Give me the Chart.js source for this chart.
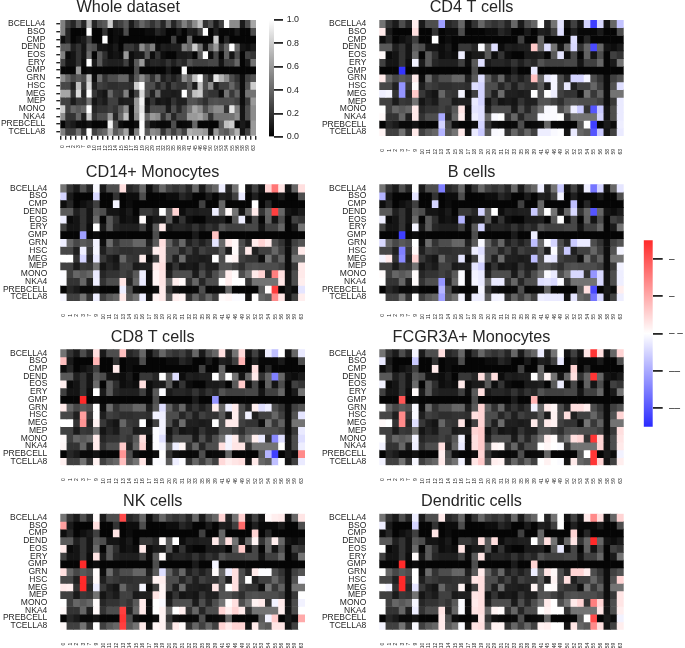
<!DOCTYPE html>
<html>
<head>
<meta charset="utf-8">
<title>Heatmaps</title>
<script src="https://cdn.jsdelivr.net/npm/chart.js@4"></script>
<style>
html, body { margin: 0; background: #fff; overflow: hidden; width: 685px; height: 648px; }
canvas { position: absolute; }
</style>
</head>
<body>
<script>
const rowLabels = ['BCELLA4', 'BSO', 'CMP', 'DEND', 'EOS', 'ERY', 'GMP', 'GRN', 'HSC', 'MEG', 'MEP', 'MONO', 'NKA4', 'PREBCELL', 'TCELLA8'];
const colLabels = ['0', '1', '2', '3', '7', '9', '10', '11', '12', '13', '14', '15', '16', '17', '18', '19', '20', '29', '31', '32', '33', '35', '38', '39', '41', '45', '46', '49', '50', '52', '53', '54', '55', '56', '58', '59', '63'];
const greyTicks = [0, 0.2, 0.4, 0.6, 0.8, 1];
const tintTicks = [2, 1, 0, -1, -2];
const tintTickLabels = ['–', '–', '– –', '––', '––'];

// Whole dataset, grey scale 0..1
const wholeValues = [
  [.5,.25,.15,.35,.15,.7,.15,.3,.35,.8,.2,.25,.35,.1,.25,.4,.3,.2,.3,.15,.4,.15,.3,.5,.35,.55,.75,.2,.3,.1,.25,1,.55,.55,.1,.3,.65],
  [.5,.15,.02,.02,.02,1,.02,.02,.2,.02,.05,.05,.3,.02,.02,.02,.05,.05,.15,.1,.02,.02,.1,.02,.12,.1,.25,1,.02,.12,.03,.03,.03,.1,.02,.02,.3],
  [.05,.15,.02,.06,.1,.25,.02,.02,1,.02,.05,.02,.02,.02,.02,.02,.02,.02,.02,.02,.02,.25,.02,.02,.4,.02,.02,.02,.02,.8,.02,.15,.02,.02,.02,.02,.02],
  [.35,.35,.12,.2,.08,.35,.3,.08,.08,.05,.1,.02,.22,.22,.15,.55,.35,.5,.05,.12,.1,.12,.12,.5,.4,.8,.45,.08,.4,.6,.2,.4,1,.4,.08,.05,.1],
  [.5,.04,.08,.2,.08,.42,.02,.35,.18,.05,.08,.05,.6,.05,.1,.1,.35,.05,.2,.05,.02,.02,.1,.1,.12,.02,.35,1,.05,.28,.02,.38,.08,.3,.02,.25,.2],
  [.25,.08,.08,.2,.05,1,.1,.35,.15,.12,.12,.12,.25,.05,.35,.6,.1,.15,.15,.12,.2,.12,.2,.15,.32,.25,.25,.25,.28,.28,.08,.25,.25,.4,.02,.1,.45],
  [.02,.02,.02,.6,.02,.05,.02,.02,.02,.02,.02,.02,.02,.02,.3,.02,.02,.02,.02,.02,.1,.02,.02,1,.02,.02,.02,.02,.02,.02,.02,.02,.02,.02,.02,.02,.02],
  [.55,.4,.28,.35,.3,.75,.05,.42,.2,.3,.3,.4,.4,.12,.35,.55,.38,.2,.4,.12,.2,.12,.2,.55,.4,.75,1,.3,.15,.9,.7,.55,.3,.2,.05,.25,.32],
  [.28,.28,.12,.75,.22,.85,.12,.25,.22,.18,.18,.2,.2,.18,.8,1,.3,.3,.15,.25,.12,.25,.2,.2,.35,.1,.75,.3,.55,.12,.25,.25,.4,.25,.05,.32,.8],
  [.65,.65,.2,.85,.15,1,.22,.12,.08,.4,.22,.2,.5,.05,.25,.85,.3,.12,.42,.12,.12,.1,.12,1,.3,.75,.8,.25,.2,.2,.05,.45,.22,.38,.05,.45,.45],
  [.25,.25,.1,.22,.2,.45,.08,.15,.1,.25,.25,.1,.12,.12,.6,.95,.08,.2,.08,.1,.08,.2,.12,.12,.32,.32,.25,.18,.3,.32,.3,.3,.3,.25,.05,.22,.6],
  [.8,.25,.4,.35,.4,1,.15,.2,.2,.25,.2,.35,.55,.05,.6,.9,.12,.3,.3,.3,.1,.3,.15,.3,.45,.65,.55,.3,.45,.55,.55,.2,.9,.5,.08,.3,.55],
  [.55,.2,.2,.4,.12,.8,.2,.3,.3,.6,.15,.4,.75,.05,.55,.95,.4,.6,.55,.2,.4,.15,.3,.3,.6,.6,.65,.5,.2,.45,.45,.45,.45,.55,.08,.3,.55],
  [.02,.15,.1,.04,.04,.08,.02,.02,.02,.95,.3,.05,.02,.02,.05,1,.2,.06,.04,.03,.04,.3,.03,.04,.05,.4,.02,.02,.02,.02,.35,.75,.8,.02,.1,.05,.6],
  [.5,.25,.25,.45,.2,1,.25,.35,.4,.7,.35,.45,.65,.08,.5,1,.35,.55,.5,.2,.4,.25,.4,.25,.7,.65,.65,.6,.08,.6,.4,.35,.5,.7,.08,.25,.6]
];

// Grey background shared by the seven cell type panels
const sharedGrey = [
  [.45,.2,.1,.3,.15,.9,.1,.3,.3,.8,.15,.2,.4,.05,.2,.4,.25,.2,.25,.15,.4,.1,.3,.4,.9,.15,.45,.9,.08,.25,.08,.9,.9,.9,.08,.4,.9],
  [.9,.1,.02,.02,.02,.9,.02,.02,.2,.02,.05,.05,.3,.02,.02,.02,.05,.05,.15,.1,.02,.02,.1,.02,.12,.1,.25,.9,.02,.12,.03,.03,.03,.1,.02,.02,.3],
  [.05,.15,.02,.06,.1,.25,.02,.02,.9,.02,.05,.02,.02,.02,.02,.02,.02,.02,.02,.02,.02,.25,.02,.02,.4,.02,.02,.02,.02,.9,.02,.15,.02,.02,.02,.02,.02],
  [.35,.35,.12,.2,.08,.35,.3,.08,.08,.05,.1,.02,.22,.22,.15,.9,.35,.9,.05,.12,.1,.12,.12,.9,.4,.9,.45,.08,.4,.9,.2,.4,.9,.4,.08,.05,.1],
  [.9,.04,.08,.2,.08,.42,.02,.35,.18,.05,.08,.05,.9,.05,.1,.1,.35,.05,.2,.05,.02,.02,.1,.1,.12,.02,.35,.9,.05,.28,.02,.38,.08,.3,.02,.25,.2],
  [.25,.08,.08,.2,.05,.9,.1,.35,.15,.12,.12,.12,.25,.05,.35,.9,.1,.15,.15,.12,.2,.12,.2,.15,.32,.25,.25,.25,.28,.28,.08,.25,.25,.4,.02,.1,.45],
  [.02,.02,.02,.9,.02,.05,.02,.02,.02,.02,.02,.02,.02,.02,.3,.02,.02,.02,.02,.02,.1,.02,.02,.9,.02,.02,.02,.02,.02,.02,.02,.02,.02,.02,.02,.02,.02],
  [.9,.4,.28,.35,.3,.9,.05,.42,.2,.3,.3,.4,.4,.12,.35,.9,.38,.2,.4,.12,.2,.12,.2,.9,.4,.9,.9,.3,.15,.9,.9,.9,.3,.2,.05,.25,.32],
  [.28,.28,.12,.9,.22,.9,.12,.25,.22,.18,.18,.2,.2,.18,.9,.9,.3,.3,.15,.25,.12,.25,.2,.2,.35,.1,.9,.3,.9,.12,.25,.25,.4,.25,.05,.32,.9],
  [.9,.9,.2,.9,.15,.9,.22,.12,.08,.4,.22,.2,.9,.05,.25,.9,.3,.12,.42,.12,.12,.1,.12,.9,.3,.9,.9,.25,.2,.2,.05,.45,.22,.38,.05,.45,.45],
  [.25,.25,.1,.22,.2,.45,.08,.15,.1,.25,.25,.1,.12,.12,.9,.9,.08,.2,.08,.1,.08,.2,.12,.12,.32,.32,.25,.18,.3,.32,.3,.3,.3,.25,.05,.22,.9],
  [.9,.25,.4,.35,.4,.9,.15,.2,.2,.25,.2,.35,.9,.05,.9,.9,.12,.3,.3,.3,.1,.3,.15,.3,.45,.9,.9,.3,.45,.9,.9,.2,.9,.9,.08,.3,.9],
  [.9,.2,.2,.4,.12,.9,.2,.3,.3,.9,.15,.4,.9,.05,.9,.9,.4,.9,.9,.2,.4,.15,.3,.3,.9,.9,.9,.9,.2,.45,.45,.45,.45,.9,.08,.3,.9],
  [.02,.15,.1,.04,.04,.08,.02,.02,.02,.9,.3,.05,.02,.02,.05,.9,.2,.06,.04,.03,.04,.3,.03,.04,.05,.4,.02,.02,.02,.02,.35,.9,.9,.02,.1,.05,.9],
  [.9,.25,.25,.45,.2,.9,.25,.35,.4,.9,.35,.45,.9,.08,.9,.9,.35,.9,.9,.2,.4,.25,.4,.25,.9,.9,.9,.9,.08,.9,.4,.35,.9,.9,.08,.25,.9]
];

// Column indexes per row that carry a blue/red value in the cell type panels
const tintCols = [
  [5,9,24,27,31,32,33,36],
  [0,5,27],
  [8,29],
  [15,17,23,25,29,32],
  [0,12,27],
  [5,15],
  [3,23],
  [0,5,15,23,25,26,29,30,31],
  [3,5,14,15,26,28,36],
  [0,1,3,5,12,15,23,25,26],
  [14,15,36],
  [0,5,12,14,15,25,26,29,30,32,33,36],
  [0,5,9,12,14,15,17,18,24,25,26,27,33,36],
  [9,15,31,32,36],
  [0,5,9,12,14,15,17,18,24,25,26,27,29,32,33,36]
];

const cd4Values = [
  [.08,-.45,0,-.12,-.2,-.9,-.18,-.28],
  [.1,.15,-.15],
  [0,-.15],
  [-.02,-.15,.25,-.15,-.18,-.85],
  [.03,-.08,-.12],
  [-.06,-.15],
  [-.95,-.1],
  [.1,.1,-.15,.3,-.1,-.05,-.2,-.2,-.05],
  [-.5,.02,-.15,-.2,-.05,-.1,-.15],
  [-.08,-.05,-.5,.25,-.05,-.2,0,0,-.08],
  [-.1,-.2,-.1],
  [0,.1,.12,-.12,-.15,-.03,-.02,-.08,-.25,-.8,-.25,-.1],
  [.03,.1,-.4,.08,-.08,-.15,-.03,0,-.03,-.02,-.02,0,-.2,-.1],
  [-.2,-.2,0,-.9,-.08],
  [.05,.1,-.35,.1,-.1,-.25,-.03,-.02,-.08,-.08,-.03,-.01,-.1,-.8,-.25,-.1]
];
const cd14Values = [
  [-.03,.15,-.08,0,.2,.65,.12,.15],
  [-.2,-.18,-.1],
  [-.05,0],
  [0,.2,-.08,.03,.1,.9],
  [-.08,.02,-.08],
  [0,.1],
  [-.45,.28],
  [-.08,-.05,.15,-.12,.1,.03,.1,.2,.1],
  [-.08,-.04,.08,.12,.02,.1,.1],
  [0,0,-.2,-.1,.08,.12,0,.02,.05],
  [.1,.15,.1],
  [-.02,-.1,-.08,.05,.12,.08,.02,.1,.2,.6,.15,.1],
  [-.02,-.08,.12,-.1,.05,.12,.08,.03,0,.08,0,0,.12,.08],
  [-.08,.1,.02,.9,-.12],
  [-.04,-.08,.1,-.08,.05,.1,.08,.05,.02,.04,-.02,-.02,.01,.55,.12,.08]
];
const bCellValues = [
  [0,-.6,-.08,-.25,-.08,-.65,-.2,-.12],
  [-.35,-.12,-.05],
  [-.2,-.3],
  [-.2,0,-.25,0,-.18,-.8],
  [-.08,-.35,0],
  [-.05,-.2],
  [-.9,-.08],
  [-.18,0,-.03,-.3,-.02,-.2,-.25,-.1,-.1],
  [-.6,.03,-.08,-.15,-.02,-.25,-.05],
  [-.05,.1,-.55,.2,-.12,-.08,-.3,-.08,-.12],
  [-.12,-.22,-.06],
  [.02,.02,-.02,-.06,-.1,-.02,-.1,-.18,-.18,-.5,-.18,-.08],
  [0,.02,-.5,-.02,-.05,-.1,-.1,-.1,-.15,-.12,-.18,-.02,-.18,-.08],
  [-.35,-.05,.15,-.85,.08],
  [0,0,-.45,-.05,-.08,-.08,-.06,-.05,-.08,-.1,-.1,-.1,-.12,-.65,-.18,-.08]
];
const cd8Values = [
  [.15,.3,.15,.18,-.08,-.3,0,-.1],
  [.3,.35,.35],
  [.1,.15],
  [0,-.15,0,0,.1,-.6],
  [.08,.15,.25],
  [0,-.02],
  [1,-.5],
  [.1,0,-.15,.08,-.08,.1,.08,-.15,-.08],
  [.45,0,-.06,-.08,.08,-.06,-.12],
  [0,0,.5,.06,0,-.06,0,.1,.1],
  [-.02,-.06,-.1],
  [.03,.1,.15,-.02,-.15,-.06,.1,.08,-.1,-.55,-.15,-.15],
  [.04,.1,.25,.2,-.02,-.05,-.08,.04,.15,-.05,.12,.12,0,-.08],
  [.5,0,-.35,-.9,.55],
  [.07,.06,.3,.12,-.02,-.02,-.08,-.02,.18,.08,.12,.15,.1,-.3,0,-.1]
];
const fcgrValues = [
  [-.05,.15,-.08,0,.12,.95,.15,.2],
  [-.1,-.25,-.1],
  [.1,.2],
  [.15,.15,0,.05,.15,.95],
  [-.06,.1,-.08],
  [.03,.15],
  [.8,.35],
  [0,-.03,.2,-.06,.1,.04,.15,.15,.08],
  [.55,-.03,.15,.2,.06,.15,.2],
  [.03,0,.55,-.15,.12,.2,.1,.1,.06],
  [.2,.25,.15],
  [0,-.06,-.06,.15,.25,.08,.02,.15,.2,.95,.2,.12],
  [-.06,-.08,.15,-.1,.15,.25,.05,.03,0,.04,0,-.02,.2,.1],
  [.08,.2,0,.95,-.06],
  [-.06,-.04,.1,-.06,.12,.25,.08,.06,0,.06,0,-.02,.1,.95,.2,.08]
];
const nkValues = [
  [.02,.85,.2,.22,.03,.08,.1,.12],
  [.45,.15,.7],
  [.12,.2],
  [.02,0,.1,.15,.05,.08],
  [.1,.1,.25],
  [.12,.02],
  [1,-.05],
  [.15,.02,-.15,.02,-.08,.15,.1,-.01,-.01],
  [1,.03,.06,.08,.15,0,-.03],
  [.1,.08,1,-.08,-.04,.05,.12,0,.15],
  [.12,.05,0],
  [0,.02,.1,0,-.03,.02,.15,.06,.1,-.06,.1,-.06],
  [.03,.03,.9,.1,0,.06,0,.08,.2,.08,.2,.1,.08,0],
  [.95,.05,-.06,.25,.4],
  [.03,0,.9,.1,.04,.06,.1,.02,.2,.1,.2,.2,.1,.12,.12,0]
];
const dendriticValues = [
  [-.08,.1,0,0,.1,.55,.15,.2],
  [-.08,-.2,0],
  [.12,.2],
  [.15,.15,0,.15,.12,1],
  [0,.12,-.1],
  [.02,.12],
  [1,.2],
  [0,0,.1,-.08,.12,.03,.2,.2,.08],
  [1,0,.12,.15,.05,.15,.2],
  [0,-.05,1,-.12,.05,.15,.05,0,.02],
  [.12,.15,.12],
  [0,-.04,-.02,.1,.15,.1,0,.1,.2,.6,.2,.12],
  [0,-.08,.12,-.02,.12,.15,.05,.02,0,.06,0,0,.12,.08],
  [.1,.12,0,.85,-.06],
  [-.05,-.03,.1,-.02,.12,.15,.06,.05,.06,.08,0,0,.12,.55,.15,.08]
];

function greyColor(v) {
  const g = Math.round(v * 255);
  return `rgb(${g},${g},${g})`;
}

function tintColor(v) {
  // white to red above zero, white to blue below
  const t = Math.min(Math.abs(v), 1);
  const low = Math.round(255 - t * 213);
  return v >= 0 ? `rgb(255,${low},${low})` : `rgb(${low},${low},255)`;
}

function addCanvas(left, top, width, height) {
  const canvas = document.createElement('canvas');
  canvas.width = width;
  canvas.height = height;
  canvas.style.left = left + 'px';
  canvas.style.top = top + 'px';
  canvas.style.width = width + 'px';
  canvas.style.height = height + 'px';
  document.body.appendChild(canvas);
  return canvas.getContext('2d');
}

function drawHeatmap(title, colors, x0, x1, y0, y1, titleCenter, marks) {
  const left = Math.floor(x0) - 60;
  const top = Math.floor(y0) - 30;
  const width = Math.round(2 * (titleCenter - left));
  const height = Math.ceil(y1) + 30 - top;
  const titleHeight = 16.2 * 1.2 + 2.5;

  const datasets = rowLabels.map((name, r) => ({
    label: name,
    data: colLabels.map(() => 1),
    backgroundColor: colors[r],
    borderWidth: 0,
    barPercentage: 1,
    categoryPercentage: 1
  }));

  return new Chart(addCanvas(left, top, width, height), {
    type: 'bar',
    data: { labels: colLabels, datasets: datasets },
    options: {
      responsive: false,
      animation: false,
      devicePixelRatio: 1,
      layout: {
        padding: {
          left: x0 - left - 60,
          right: left + width - x1,
          top: y0 - top - titleHeight,
          bottom: top + height - y1 - 25
        }
      },
      plugins: {
        legend: { display: false },
        tooltip: { enabled: false },
        title: {
          display: true,
          text: title,
          color: '#262626',
          font: { family: 'Liberation Sans', size: 16.2, weight: 'normal', lineHeight: 1.2 },
          padding: { top: 0, bottom: 2.5 }
        }
      },
      scales: {
        x: {
          stacked: true,
          afterFit: (s) => { s.height = 25; },
          border: { display: false },
          grid: marks
            ? { drawOnChartArea: false, color: '#262626', lineWidth: 1.4, tickLength: 4 }
            : { display: false, drawTicks: false },
          ticks: {
            autoSkip: false,
            minRotation: 90,
            maxRotation: 90,
            color: '#262626',
            padding: marks ? 5.5 : 13,
            font: { family: 'Liberation Sans', size: 5 }
          }
        },
        y: {
          stacked: true,
          reverse: true,
          min: 0,
          max: rowLabels.length,
          afterBuildTicks: (s) => { s.ticks = rowLabels.map((_, i) => ({ value: i + 0.5 })); },
          afterFit: (s) => { s.width = 60; },
          border: { display: false },
          grid: marks
            ? { drawOnChartArea: false, color: '#262626', lineWidth: 1.4, tickLength: 4 }
            : { display: false, drawTicks: false },
          ticks: {
            autoSkip: false,
            color: '#262626',
            padding: marks ? 11 : 13,
            font: { family: 'Liberation Sans', size: 8.5 },
            callback: (v) => rowLabels[v - 0.5]
          }
        }
      }
    }
  });
}

// Colours per cell for one cell type panel
function panelColors(values) {
  return sharedGrey.map((row, r) => row.map((v, c) => {
    const i = tintCols[r].indexOf(c);
    return i >= 0 ? tintColor(values[r][i]) : greyColor(v);
  }));
}

function drawColorbar(left, top, width, height, padLeft, barWidth, min, max, stops, tick) {
  return new Chart(addCanvas(left, top, width, height), {
    type: 'bar',
    data: {
      labels: [''],
      datasets: [{
        data: [[min, max]],
        borderWidth: 0,
        barPercentage: 1,
        categoryPercentage: 1,
        backgroundColor: (c) => {
          const area = c.chart.chartArea;
          if (!area) return '#888';
          const g = c.chart.ctx.createLinearGradient(0, area.bottom, 0, area.top);
          stops.forEach((color, i) => g.addColorStop(i / (stops.length - 1), color));
          return g;
        }
      }]
    },
    options: {
      responsive: false,
      animation: false,
      devicePixelRatio: 1,
      layout: { padding: { left: padLeft, top: tick.padTop, bottom: tick.padBottom } },
      plugins: { legend: { display: false }, tooltip: { enabled: false } },
      scales: {
        x: { display: false },
        y: {
          position: 'right',
          min: min,
          max: max,
          afterBuildTicks: (s) => { s.ticks = tick.values.map((v) => ({ value: v })); },
          afterFit: (s) => { s.width = width - padLeft - barWidth; },
          border: { display: false },
          grid: { drawOnChartArea: false, color: '#262626', lineWidth: 1.8, tickLength: tick.length },
          ticks: {
            color: '#262626',
            padding: tick.padding,
            font: { family: 'Liberation Sans', size: tick.size },
            callback: tick.label
          }
        }
      }
    }
  });
}

const wholeColors = wholeValues.map((row) => row.map(greyColor));
drawHeatmap('Whole dataset', wholeColors, 60.3, 256, 20, 135.7, 166, true);

const leftX = [60.3, 305];
const rightX = [379.3, 623.7];
drawHeatmap('CD4 T cells', panelColors(cd4Values), rightX[0], rightX[1], 20, 136, 501.5, false);
drawHeatmap('CD14+ Monocytes', panelColors(cd14Values), leftX[0], leftX[1], 184.3, 301, 183, false);
drawHeatmap('B cells', panelColors(bCellValues), rightX[0], rightX[1], 184.3, 301, 501.5, false);
drawHeatmap('CD8 T cells', panelColors(cd8Values), leftX[0], leftX[1], 349.3, 465.3, 183, false);
drawHeatmap('FCGR3A+ Monocytes', panelColors(fcgrValues), rightX[0], rightX[1], 349.3, 465.3, 501.5, false);
drawHeatmap('NK cells', panelColors(nkValues), leftX[0], leftX[1], 513.7, 629.7, 183, false);
drawHeatmap('Dendritic cells', panelColors(dendriticValues), rightX[0], rightX[1], 513.7, 629.7, 501.5, false);

drawColorbar(260, 10, 60, 136, 9, 5, 0, 1, ['#000000', '#ffffff'], {
  padTop: 10, padBottom: 0.3, length: 9, padding: 3.7, size: 8.9, values: greyTicks,
  label: (v) => v.toFixed(1)
});

drawColorbar(635, 228, 50, 211, 8.7, 9, -2.5, 2.5, ['#2a2aff', '#ffffff', '#ff2a2a'], {
  padTop: 10.3, padBottom: 10, length: 10, padding: 6.3, size: 10, values: tintTicks,
  label: (v) => tintTickLabels[tintTicks.indexOf(v)]
});
</script>
</body>
</html>
